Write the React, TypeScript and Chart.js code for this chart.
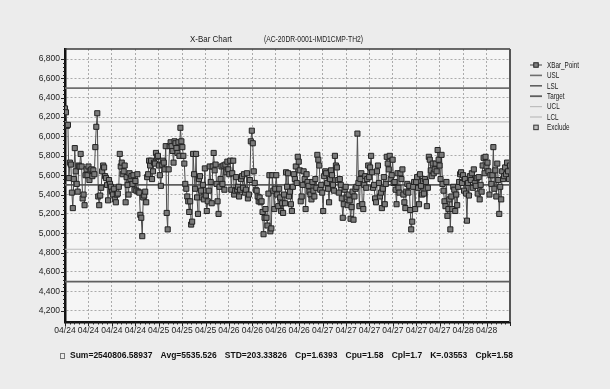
import React, { useEffect, useRef } from "react";
import { Chart, registerables } from "chart.js";

Chart.register(...registerables);

const FONT = '"Liberation Sans", Arial, Helvetica, sans-serif';

const TITLE_MAIN = "X-Bar Chart";
const TITLE_ID = "(AC-20DR-0001-IMD1CMP-TH2)";

const DATE_LABELS = [
  "04/24", "04/24", "04/24", "04/24", "04/25", "04/25", "04/25",
  "04/26", "04/26", "04/26", "04/26", "04/27", "04/27", "04/27",
  "04/27", "04/27", "04/27", "04/28", "04/28",
];

const XBAR_A = [
  6290, 6250, 6110, 6120, 5570, 5730, 5710, 5420, 5260, 5560, 5880, 5640, 5510, 5430, 5700, 5690,
  5820, 5690, 5360, 5400, 5290, 5600, 5660, 5600, 5690, 5550, 5650, 5660, 5590, 5650, 5610, 5890,
  6100, 6240, 5380, 5290, 5390, 5470, 5640, 5700, 5680, 5590, 5570, 5500, 5340, 5550, 5510, 5480,
  5430, 5400, 5460, 5350, 5320, 5400, 5410, 5480, 5820, 5690, 5730, 5610, 5640, 5700, 5320, 5580,
  5500, 5400, 5620, 5560, 5590, 5510, 5600, 5450, 5540, 5440, 5610, 5430, 5420, 5190, 5160, 4970,
  5370, 5390, 5430, 5320, 5580, 5610, 5750, 5700, 5750, 5560, 5640, 5730, 5720, 5830, 5790, 5800,
  5700, 5600, 5490, 5710, 5750, 5730, 5660, 5900, 5210, 5040, 5660, 5900, 5940, 5900, 5850, 5730,
];

const XBAR_B = [
  5950, 5930, 5880, 5830, 5940, 5800, 6090, 5950, 5890, 5800, 5720, 5510, 5460, 5380, 5330, 5220,
  5330, 5090, 5120, 5820, 5610, 5460, 5820, 5370, 5200, 5560, 5590, 5440, 5370, 5500, 5350, 5670,
  5390, 5230, 5330, 5440, 5690, 5530, 5310, 5690, 5830, 5650, 5710, 5510, 5330, 5200, 5480, 5560,
  5690, 5510, 5700, 5450, 5710, 5630, 5740, 5660, 5610, 5750, 5450, 5620, 5750, 5400, 5440, 5580,
  5450, 5480, 5380, 5450, 5560, 5590, 5470, 5610, 5420, 5450, 5620, 5360, 5400, 5550, 5950, 6060,
  5930, 5640, 5520, 5450, 5440, 5380, 5330, 5370, 5320, 5330, 5220, 4990, 5160, 5250, 5160, 5080,
  5410, 5600, 5020, 5050, 5600, 5440, 5250, 5460, 5600, 5400, 5280, 5460, 5370, 5230, 5310, 5210,
  5400, 5310, 5630,
];

const XBAR_C = [
  5480, 5620, 5380, 5430, 5300, 5230, 5480, 5610, 5560, 5690, 5520, 5790, 5740, 5650, 5330, 5380,
  5500, 5640, 5560, 5250, 5610, 5530, 5490, 5430, 5400, 5350, 5530, 5440, 5380, 5560, 5470, 5810,
  5760, 5700, 5450, 5500, 5420, 5230, 5590, 5640, 5620, 5520, 5460, 5320, 5560, 5650, 5600, 5500,
  5440, 5800, 5700, 5680, 5550, 5420, 5560, 5500, 5360, 5160, 5300, 5450, 5480, 5370, 5290, 5400,
  5340, 5150, 5270, 5430, 5140, 5380, 5460, 5480, 6030, 5520, 5280, 5560, 5620, 5300, 5250, 5500,
  5590, 5470, 5560, 5700, 5580, 5680, 5800, 5630, 5470, 5500, 5360, 5320, 5640, 5700, 5520, 5380,
  5420, 5260, 5460, 5580, 5300, 5510, 5790, 5720, 5660, 5800, 5560, 5600, 5760, 5520, 5530, 5450,
  5300, 5620,
];

const XBAR_D = [
  5470, 5420, 5620, 5560, 5660, 5400, 5320, 5260, 5430, 5510, 5420, 5490, 5240, 5040, 5120, 5480,
  5530, 5250, 5530, 5580, 5470, 5300, 5610, 5490, 5400, 5540, 5410, 5560, 5530, 5280, 5470, 5790,
  5760, 5650, 5590, 5720, 5620, 5660, 5720, 5640, 5860, 5760, 5700, 5560, 5810, 5510, 5440, 5330,
  5280, 5530, 5180, 5250, 5350, 5040, 5380, 5250, 5480, 5450, 5230, 5400, 5290, 5480, 5530, 5610,
  5630, 5520, 5600, 5440, 5560, 5410, 5130, 5520, 5390, 5590, 5550, 5620, 5470, 5660, 5520, 5490,
  5570, 5410, 5580, 5350, 5500, 5430, 5700, 5780, 5620, 5790, 5690, 5730, 5640, 5400, 5600, 5510,
  5600, 5890, 5460, 5650, 5380, 5720, 5550, 5200, 5480, 5350, 5640, 5560, 5590, 5680, 5610, 5730,
  5640, 5560, 5700,
];

const XBAR = [...XBAR_A, ...XBAR_B, ...XBAR_C, ...XBAR_D];

const LIMIT_NAMES = ["USL", "LSL", "Target", "UCL", "LCL"];
const LIMIT_VALUES = [6500, 4500, 5500, 6150, 4835];

const LEGEND_LABELS = ["XBar_Point", "USL", "LSL", "Target", "UCL", "LCL", "Exclude"];

const STATS = [
  "Sum=2540806.58937",
  "Avg=5535.526",
  "STD=203.33826",
  "Cp=1.6393",
  "Cpu=1.58",
  "Cpl=1.7",
  "K=.03553",
  "Cpk=1.58",
];

const Y_MIN = 4083;
const Y_MAX = 6904;
const Y_FIRST_TICK = 4200;
const Y_LAST_TICK = 6800;
const Y_STEP = 200;

const LIMIT_STYLE: Record<string, { color: string; width: number }> = {
  USL: { color: "#6e6e6e", width: 1.6 },
  LSL: { color: "#606060", width: 1.6 },
  Target: { color: "#5e5e5e", width: 1.8 },
  UCL: { color: "#bdbdbd", width: 1.2 },
  LCL: { color: "#bdbdbd", width: 1.2 },
};

function square(ctx: CanvasRenderingContext2D, cx: number, cy: number, s: number, fill: string, stroke: string) {
  ctx.fillStyle = fill;
  ctx.fillRect(cx - s / 2, cy - s / 2, s, s);
  ctx.strokeStyle = stroke;
  ctx.lineWidth = 1;
  ctx.strokeRect(cx - s / 2, cy - s / 2, s, s);
}

function fitText(ctx: CanvasRenderingContext2D, text: string, x: number, y: number, targetWidth: number) {
  const w = ctx.measureText(text).width;
  ctx.save();
  ctx.translate(x, y);
  ctx.scale(targetWidth / w, 1);
  ctx.fillText(text, 0, 0);
  ctx.restore();
}

const decor = {
  id: "decor",
  beforeDraw(chart: any) {
    const { ctx, chartArea: a, width, height } = chart;
    ctx.save();
    ctx.fillStyle = "#ececec";
    ctx.fillRect(0, 0, width, height);
    ctx.fillStyle = "#f5f5f5";
    ctx.fillRect(a.left, a.top, a.right - a.left, a.bottom - a.top);
    ctx.restore();
  },
  afterDraw(chart: any) {
    const { ctx, chartArea: a } = chart;
    const xs = chart.scales.x;
    const ys = chart.scales.y;
    ctx.save();

    // frame top and right
    ctx.strokeStyle = "#3a3a3a";
    ctx.lineWidth = 1.5;
    ctx.beginPath();
    ctx.moveTo(a.left, a.top);
    ctx.lineTo(a.right, a.top);
    ctx.stroke();
    ctx.strokeStyle = "#555";
    ctx.lineWidth = 2;
    ctx.beginPath();
    ctx.moveTo(a.right, a.top);
    ctx.lineTo(a.right, a.bottom);
    ctx.stroke();

    // tick marks on the axes
    ctx.strokeStyle = "#222";
    ctx.lineWidth = 1;
    for (let v = Y_FIRST_TICK; v <= Y_LAST_TICK; v += Y_STEP / 5) {
      const y = Math.round(ys.getPixelForValue(v)) + 0.5;
      const major = v % Y_STEP === 0;
      ctx.beginPath();
      ctx.moveTo(a.left - (major ? 4 : 2), y);
      ctx.lineTo(a.left, y);
      ctx.stroke();
    }
    const n = DATE_LABELS.length;
    for (let i = 0; i <= n * 5; i++) {
      const x = Math.round(xs.getPixelForValue((i / (n * 5)) * (XBAR.length - 1))) + 0.5;
      const major = i % 5 === 0;
      ctx.beginPath();
      ctx.moveTo(x, a.bottom);
      ctx.lineTo(x, a.bottom + (major ? 4 : 2.5));
      ctx.stroke();
    }

    // title
    ctx.fillStyle = "#1a1a1a";
    ctx.textBaseline = "middle";
    ctx.textAlign = "left";
    ctx.font = `8.5px ${FONT}`;
    fitText(ctx, TITLE_MAIN, 190, 40, 42);
    ctx.font = `9px ${FONT}`;
    fitText(ctx, TITLE_ID, 264, 40, 99);

    // legend
    const lx = 530;
    let ly = 65;
    ctx.font = `8.5px ${FONT}`;
    const ratio = 32 / ctx.measureText("XBar_Point").width;
    LEGEND_LABELS.forEach((label) => {
      if (label === "XBar_Point") {
        ctx.strokeStyle = "#444";
        ctx.lineWidth = 1;
        ctx.beginPath();
        ctx.moveTo(lx, ly);
        ctx.lineTo(lx + 12, ly);
        ctx.stroke();
        square(ctx, lx + 6, ly, 4.5, "#808080", "#222");
      } else if (label === "Exclude") {
        square(ctx, lx + 6, ly, 4.5, "#bdbdbd", "#333");
      } else {
        const st = LIMIT_STYLE[label];
        ctx.strokeStyle = st.color;
        ctx.lineWidth = st.width;
        ctx.beginPath();
        ctx.moveTo(lx, ly);
        ctx.lineTo(lx + 12, ly);
        ctx.stroke();
      }
      ctx.fillStyle = "#1a1a1a";
      fitText(ctx, label, lx + 17, ly + 0.5, ctx.measureText(label).width * ratio);
      ly += 10.4;
    });

    // stats line
    const sy = 356;
    ctx.strokeStyle = "#777";
    ctx.lineWidth = 1;
    ctx.strokeRect(60.5, sy - 2.5, 4, 5);
    ctx.font = `bold 8.5px ${FONT}`;
    const widths = STATS.map((s) => ctx.measureText(s).width);
    const total = widths.reduce((p, c) => p + c, 0);
    const start = 70;
    const end = 513;
    const gap = (end - start - total) / (STATS.length - 1);
    let sx = start;
    ctx.fillStyle = "#111";
    STATS.forEach((s, i) => {
      ctx.fillText(s, sx, sy);
      sx += widths[i] + gap;
    });

    ctx.restore();
  },
};

export default function App() {
  const ref = useRef<HTMLCanvasElement | null>(null);

  useEffect(() => {
    if (!ref.current) return;
    const N = XBAR.length;
    const points = XBAR.map((y, i) => ({ x: i, y }));
    const limitSets = LIMIT_NAMES.map((name, k) => ({
      label: name,
      data: [
        { x: 0, y: LIMIT_VALUES[k] },
        { x: N - 1, y: LIMIT_VALUES[k] },
      ],
      borderColor: LIMIT_STYLE[name].color,
      borderWidth: LIMIT_STYLE[name].width,
      pointRadius: 0,
      order: 2,
    }));

    const chart = new Chart(ref.current, {
      type: "line",
      data: {
        datasets: [
          {
            label: "XBar_Point",
            data: points,
            borderColor: "#4d4d4d",
            borderWidth: 1,
            pointStyle: "rect",
            pointRadius: 3.6,
            pointBackgroundColor: "#7a7a7a",
            pointBorderColor: "#222",
            pointBorderWidth: 1,
            tension: 0,
            order: 1,
          },
          ...limitSets,
        ],
      },
      options: {
        responsive: false,
        animation: false,
        events: [],
        layout: { padding: { top: 49, right: 100, left: 0, bottom: 0 } },
        plugins: {
          legend: { display: false },
          title: { display: false },
          tooltip: { enabled: false },
        },
        scales: {
          x: {
            type: "linear",
            min: 0,
            max: N - 1,
            afterBuildTicks: (s: any) => {
              const n = DATE_LABELS.length;
              s.ticks = Array.from({ length: n + 1 }, (_, i) => ({ value: (i * (N - 1)) / n }));
            },
            afterFit: (s: any) => {
              s.height = 67;
            },
            ticks: {
              autoSkip: false,
              maxRotation: 0,
              padding: 4,
              color: "#222",
              font: { family: FONT, size: 8.5 },
              callback: (_v: any, i: number) => DATE_LABELS[i] ?? "",
            },
            grid: { color: "#ababab", lineWidth: 1, drawTicks: false },
            border: { display: true, color: "#111", width: 2.5, dash: [2, 2] },
          },
          y: {
            min: Y_MIN,
            max: Y_MAX,
            afterBuildTicks: (s: any) => {
              const t = [];
              for (let v = Y_FIRST_TICK; v <= Y_LAST_TICK; v += Y_STEP) t.push({ value: v });
              s.ticks = t;
            },
            afterFit: (s: any) => {
              s.width = 65;
            },
            ticks: {
              autoSkip: false,
              padding: 5,
              color: "#222",
              font: { family: FONT, size: 8.5 },
              callback: (v: any) => Number(v).toLocaleString("en-US"),
            },
            grid: { color: "#ababab", lineWidth: 1, drawTicks: false },
            border: { display: true, color: "#111", width: 2.5, dash: [2, 2] },
          },
        },
      },
      plugins: [decor],
    } as any);

    return () => chart.destroy();
  }, []);

  return (
    <div style={{ position: "fixed", left: 0, top: 0, width: 610, height: 389, background: "#ececec" }}>
      <canvas ref={ref} width={610} height={389} style={{ display: "block" }} />
    </div>
  );
}
